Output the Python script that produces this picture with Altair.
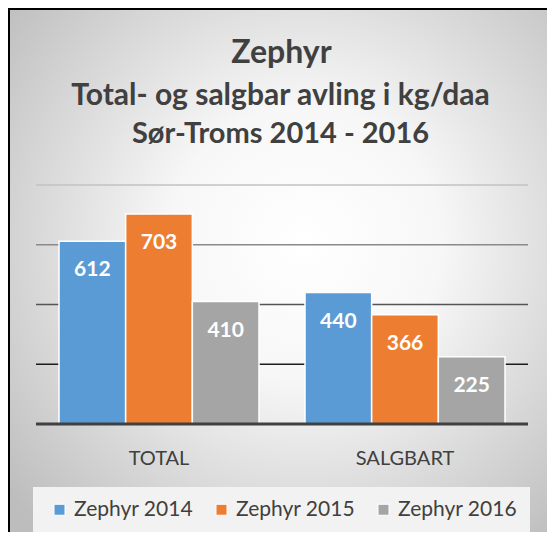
import altair as alt
import pandas as pd

# ---- data ----
categories = ["TOTAL", "SALGBART"]
series = ["Zephyr 2014", "Zephyr 2015", "Zephyr 2016"]
values_total = [612, 703, 410]
values_salgbart = [440, 366, 225]
bar_colors = ["#5B9BD5", "#ED7D31", "#A5A5A5"]
grid_values = [200, 400, 600, 800]
grid_colors = ["#1c1c1c", "#555555", "#8a8a8a", "#c2c2c2"]
title_text = "Zephyr"
subtitle_lines = ["Total- og salgbar avling i kg/daa", "Sør-Troms 2014 - 2016"]

rows = []
for cat, vals in zip(categories, [values_total, values_salgbart]):
    for s, v in zip(series, vals):
        rows.append({"kategori": cat, "serie": s, "verdi": v})
df = pd.DataFrame(rows)
grid_df = pd.DataFrame({"v": grid_values})
base_df = pd.DataFrame({"v": [0]})

# ---- layout ----
W, H = 539, 524
PL, PT, PR, PB = 28, 177, 19, 108
PW, PH = W - PL - PR, H - PT - PB
FONT = "Lato"
TXT = "#404040"
CX = PW / 2 - 1.5

yscale = alt.Scale(domain=[0, 800], nice=False, zero=True)
x_enc = alt.X(
    "kategori:N",
    sort=categories,
    scale=alt.Scale(paddingInner=0.187, paddingOuter=0.0935),
    axis=alt.Axis(
        title=None, labelAngle=0, domain=False, ticks=False,
        labelFont=FONT, labelFontSize=20, labelColor=TXT,
        labelPadding=24, labelBaseline="top", zindex=2,
    ),
)
xo_enc = alt.XOffset("serie:N", sort=series, scale=alt.Scale(paddingInner=0, paddingOuter=0))
y_enc = alt.Y("verdi:Q", scale=yscale, axis=None)

one = alt.Data(values=[{}])

bg = alt.Chart(one).mark_rect(
    fill=alt.RadialGradient(
        gradient="radial",
        stops=[
            alt.GradientStop(color="#ffffff", offset=0),
            alt.GradientStop(color="#f7f7f7", offset=0.35),
            alt.GradientStop(color="#bdbdbd", offset=1),
        ],
        x1=0.55, y1=0.45, r1=0, x2=0.55, y2=0.45, r2=0.72,
    )
).encode(x=alt.value(-PL), x2=alt.value(W - PL), y=alt.value(-PT), y2=alt.value(H - PT))

frame_left = alt.Chart(one).mark_rule(color="black", strokeWidth=2).encode(
    x=alt.value(-PL + 1), y=alt.value(-PT), y2=alt.value(H - PT)
)
frame_top = alt.Chart(one).mark_rule(color="black", strokeWidth=2).encode(
    y=alt.value(-PT + 1), x=alt.value(-PL), x2=alt.value(W - PL)
)

title_mark = alt.Chart(one).mark_text(
    text=title_text, font=FONT, fontSize=32, fontWeight="bold", color=TXT,
    align="center", baseline="alphabetic",
).encode(x=alt.value(CX + 1), y=alt.value(-122))
sub1 = alt.Chart(one).mark_text(
    text=subtitle_lines[0], font=FONT, fontSize=30, fontWeight="bold", color=TXT,
    align="center", baseline="alphabetic",
).encode(x=alt.value(CX), y=alt.value(-80))
sub2 = alt.Chart(one).mark_text(
    text=subtitle_lines[1], font=FONT, fontSize=29, fontWeight="bold", color=TXT,
    align="center", baseline="alphabetic",
).encode(x=alt.value(CX), y=alt.value(-42))

legend_box = alt.Chart(one).mark_rect(fill="#f2f2f2").encode(
    x=alt.value(-3), x2=alt.value(494), y=alt.value(302), y2=alt.value(348)
)

grid = alt.Chart(grid_df).mark_rule(strokeWidth=1.5).encode(
    y=alt.Y("v:Q", scale=yscale, axis=None),
    stroke=alt.Stroke("v:O", scale=alt.Scale(domain=grid_values, range=grid_colors), legend=None),
)

baseline = alt.Chart(base_df).mark_rule(color="#404040", strokeWidth=3).encode(
    y=alt.Y("v:Q", scale=yscale, axis=None)
)

bars = alt.Chart(df).mark_bar(stroke="white", strokeWidth=1.5).encode(
    x=x_enc,
    xOffset=xo_enc,
    y=y_enc,
    color=alt.Color(
        "serie:N",
        sort=series,
        scale=alt.Scale(domain=series, range=bar_colors),
        legend=alt.Legend(
            title=None, orient="none", legendX=13, legendY=314,
            direction="horizontal", symbolType="square", symbolSize=121,
            symbolStrokeColor="white", symbolStrokeWidth=1,
            labelFont=FONT, labelFontSize=21, labelColor=TXT,
            columnPadding=17, labelOffset=4, padding=0,
        ),
    ),
)

labels = alt.Chart(df).mark_text(
    color="white", font=FONT, fontWeight="bold", fontSize=21, baseline="middle", dy=29
).encode(x=x_enc, xOffset=xo_enc, y=y_enc, text="verdi:Q")

chart = alt.layer(
    bg, frame_left, frame_top, title_mark, sub1, sub2, legend_box, grid, bars, baseline, labels
).properties(
    width=PW,
    height=PH,
    padding={"left": PL, "top": PT, "right": PR, "bottom": PB},
    autosize=alt.AutoSizeParams(type="none"),
    background="white",
).configure_view(stroke=None)

chart.save("out.html", embed_options={"renderer": "svg", "actions": False})
